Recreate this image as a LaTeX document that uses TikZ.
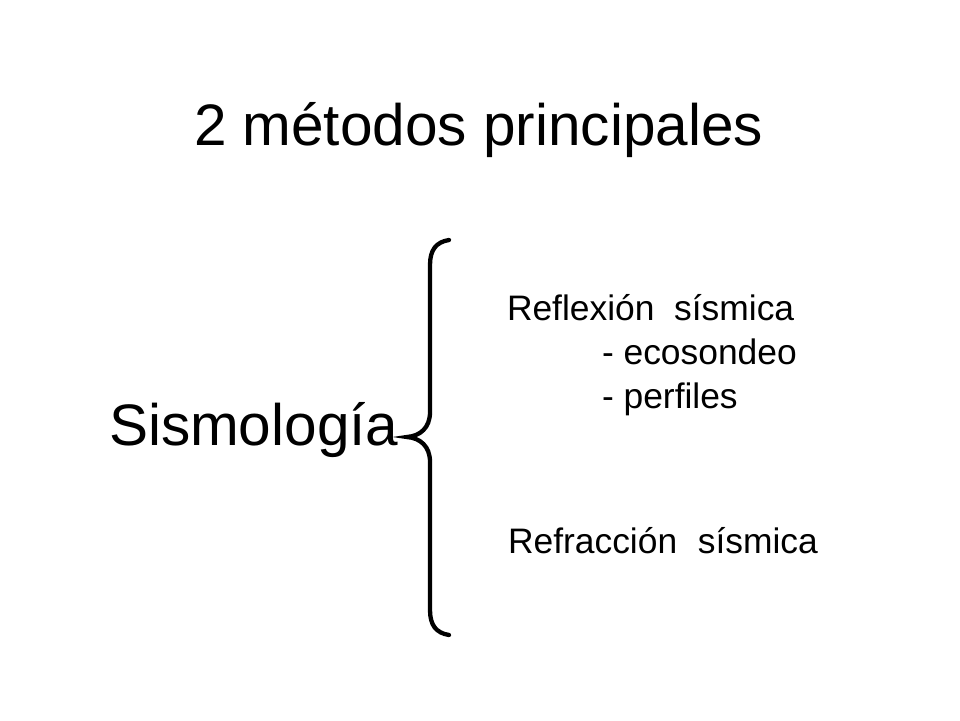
\documentclass[tikz,border=0pt]{standalone}
\usepackage{fontspec}
\setmainfont{Liberation Sans}
\begin{document}
\begin{tikzpicture}[x=1pt,y=-1pt,
  txt/.style={anchor=base west,inner sep=0pt,outer sep=0pt,text=black},
  big/.style={txt,font=\fontsize{58.5}{62}\selectfont},
  small/.style={txt,font=\fontsize{35.4}{40}\selectfont},
  bracestroke/.style={line width=4.3pt,line cap=round,black}]
\useasboundingbox (0,0) rectangle (960,720);
\fill[white] (0,0) rectangle (960,720);
\node[big] (title) at (194,145) {2 métodos principales};
\node[big] (sismo) at (109,445) {Sismología};
\node[small] (reflex) at (507,320) {Reflexión\ \ sísmica};
\node[small] (eco) at (602,364) {- ecosondeo};
\node[small] (perf) at (602,408) {- perfiles};
\node[small] (refrac) at (508,553) {Refracción\ \ \hspace{1pt}sísmica};
\coordinate (btop) at (449,240);
\coordinate (btip) at (407,437);
\coordinate (bbot) at (449,635);
\draw[bracestroke] (btop) .. controls (436,242) and (430,250) .. (430,265)
  -- (430,412) .. controls (430,428) and (420,436) .. (btip)
  .. controls (420,438) and (430,446) .. (430,462)
  -- (430,610) .. controls (430,625) and (436,633) .. (bbot);
\end{tikzpicture}
\end{document}
